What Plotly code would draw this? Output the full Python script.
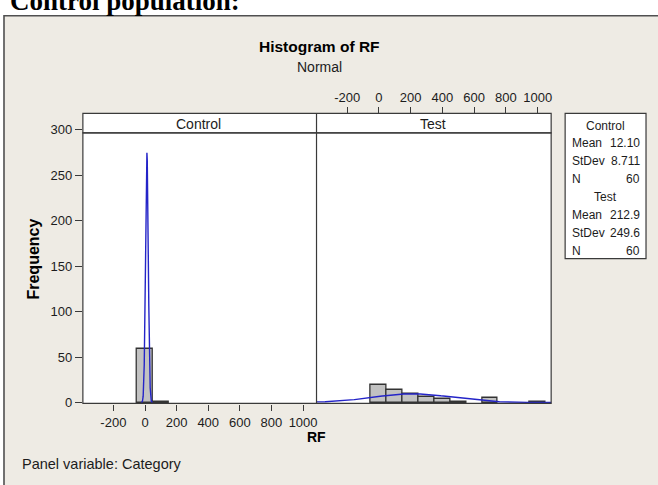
import numpy as np
import plotly.graph_objects as go

W, H = 658, 485


def fx(px):
    return px / W


def fy(py):
    return 1 - py / H


# ---------------- data ----------------
groups = ["Control", "Test"]
bin_width = 100
control_bins = [0, 100]
control_counts = [59, 1]
test_bins = [0, 100, 200, 300, 400, 500, 700, 1000]
test_counts = [19, 14, 10, 6, 4, 1, 5, 1]
means = [12.10, 212.9]
stdevs = [8.711, 249.6]
ns = [60, 60]
mean_labels = ["12.10", "212.9"]
stdev_labels = ["8.711", "249.6"]
x_ticks = [-200, 0, 200, 400, 600, 800, 1000]
x_tick_text = ["-200", "0", "200", "400", "600", "800", "1000"]
y_ticks = [0, 50, 100, 150, 200, 250, 300]

X_RANGE = [-393, 1085]
Y_RANGE = [-1.5, 302]

SANS = "Liberation Sans, Arial, sans-serif"
INK = "#1c1c1c"
FRAME = "#3a3a3a"
BAR_FILL = "#c2c2c2"
BAR_LINE = "#333333"
CURVE = "#2424c8"


def normal_curve(m, s, n, bw):
    xs = np.linspace(m - 4 * s, m + 4 * s, 801)
    ys = n * bw / (s * np.sqrt(2 * np.pi)) * np.exp(-0.5 * ((xs - m) / s) ** 2)
    return xs, ys


fig = go.Figure()

panels = [
    (control_bins, control_counts, "x", "y", 0),
    (test_bins, test_counts, "x2", "y2", 1),
]
for bins, counts, xa, ya, i in panels:
    fig.add_trace(go.Bar(
        x=bins, y=counts, width=bin_width, xaxis=xa, yaxis=ya,
        marker=dict(color=BAR_FILL, line=dict(color=BAR_LINE, width=1.3)),
        showlegend=False, hoverinfo="skip",
    ))
    cx, cy = normal_curve(means[i], stdevs[i], ns[i], bin_width)
    fig.add_trace(go.Scatter(
        x=cx, y=cy, mode="lines", xaxis=xa, yaxis=ya,
        line=dict(color=CURVE, width=1.4), showlegend=False, hoverinfo="skip",
    ))

# invisible trace so the top axis of the Test panel is drawn
fig.add_trace(go.Scatter(x=[X_RANGE[0]], y=[0], xaxis="x3", yaxis="y2", mode="markers",
                         marker=dict(opacity=0), showlegend=False, hoverinfo="skip"))

tickfont = dict(family=SANS, size=13, color=INK)
common_x = dict(range=X_RANGE, showgrid=False, zeroline=False, showline=False,
                tickvals=x_ticks, ticktext=x_tick_text, ticks="outside", ticklen=6,
                tickwidth=1.2, tickcolor=FRAME, tickfont=tickfont, fixedrange=True)

fig.update_layout(
    width=W, height=H,
    margin=dict(l=0, r=0, t=0, b=0),
    paper_bgcolor="white",
    plot_bgcolor="rgba(0,0,0,0)",
    bargap=0,
    showlegend=False,
    xaxis=dict(domain=[fx(83), fx(317)], anchor="y", **common_x),
    xaxis2=dict(domain=[fx(317), fx(552)], anchor="y2", range=X_RANGE, showgrid=False,
                zeroline=False, showline=False, showticklabels=False, ticks=""),
    xaxis3=dict(overlaying="x2", anchor="free", position=fy(110), side="top", **common_x),
    yaxis=dict(domain=[fy(408), fy(125)], anchor="x", range=Y_RANGE, tickvals=y_ticks,
               showgrid=False, zeroline=False, showline=False, ticks="outside",
               ticklen=7, tickwidth=1.2, tickcolor=FRAME, tickfont=tickfont),
    yaxis2=dict(domain=[fy(408), fy(125)], anchor="x2", range=Y_RANGE, showgrid=False,
                zeroline=False, showline=False, showticklabels=False, ticks=""),
)

shapes = [
    # beige background panel
    dict(type="rect", xref="paper", yref="paper", x0=fx(4), x1=fx(700), y0=fy(520), y1=fy(10),
         fillcolor="#eeebe4", line=dict(color="#505050", width=1.6), layer="below"),
    # plot area
    dict(type="rect", xref="paper", yref="paper", x0=fx(83), x1=fx(552), y0=fy(407.5), y1=fy(130),
         fillcolor="white", line=dict(width=0), layer="below"),
    # strip
    dict(type="rect", xref="paper", yref="paper", x0=fx(83), x1=fx(552), y0=fy(130), y1=fy(110),
         fillcolor="white", line=dict(color=FRAME, width=1.2), layer="below"),
    # plot frame
    dict(type="rect", xref="paper", yref="paper", x0=fx(83), x1=fx(552), y0=fy(407.5), y1=fy(130),
         fillcolor="rgba(0,0,0,0)", line=dict(color=FRAME, width=1.2), layer="above"),
    # panel divider
    dict(type="line", xref="paper", yref="paper", x0=fx(317), x1=fx(317), y0=fy(407.5), y1=fy(110),
         line=dict(color=FRAME, width=1.2), layer="above"),
    # stats box
    dict(type="rect", xref="paper", yref="paper", x0=fx(566), x1=fx(647), y0=fy(259), y1=fy(110),
         fillcolor="white", line=dict(color=FRAME, width=1.2), layer="below"),
]

ann = []


def text(t, x, y, size, bold=False, xanchor="center", family=SANS, angle=0, yanchor="middle"):
    ann.append(dict(
        text=f"<b>{t}</b>" if bold else t, x=fx(x), y=fy(y), xref="paper", yref="paper",
        xanchor=xanchor, yanchor=yanchor, showarrow=False, textangle=angle,
        font=dict(family=family, size=size, color="black" if bold else INK),
    ))


text("Control population:", 8, 12, 27, bold=True, xanchor="left",
     family="Liberation Serif, Times New Roman, serif", yanchor="bottom")
text("Histogram of RF", 320, 42, 15.5, bold=True)
text("Normal", 320, 63, 14)
text(groups[0], 199, 120.5, 14)
text(groups[1], 434, 120.5, 14)
text("RF", 317, 442, 14, bold=True)
text("Frequency", 34, 259, 16, bold=True, angle=-90)
text("Panel variable: Category", 20, 469.5, 14.5, xanchor="left")

# stats box
row_y = [122.7, 140.7, 159.3, 177.7]
for gi, g in enumerate(groups):
    base = gi * 73.3
    text(g, 606.7, row_y[0] + base, 12)
    for lab, val, ry in zip(["Mean", "StDev", "N"],
                            [mean_labels[gi], stdev_labels[gi], str(ns[gi])], row_y[1:]):
        text(lab, 571, ry + base, 12, xanchor="left")
        text(val, 643, ry + base, 12, xanchor="right")

fig.update_layout(shapes=shapes, annotations=ann)

fig.write_html("out.html", config={"displayModeBar": False},
               post_script="document.body.style.margin='0px';")
